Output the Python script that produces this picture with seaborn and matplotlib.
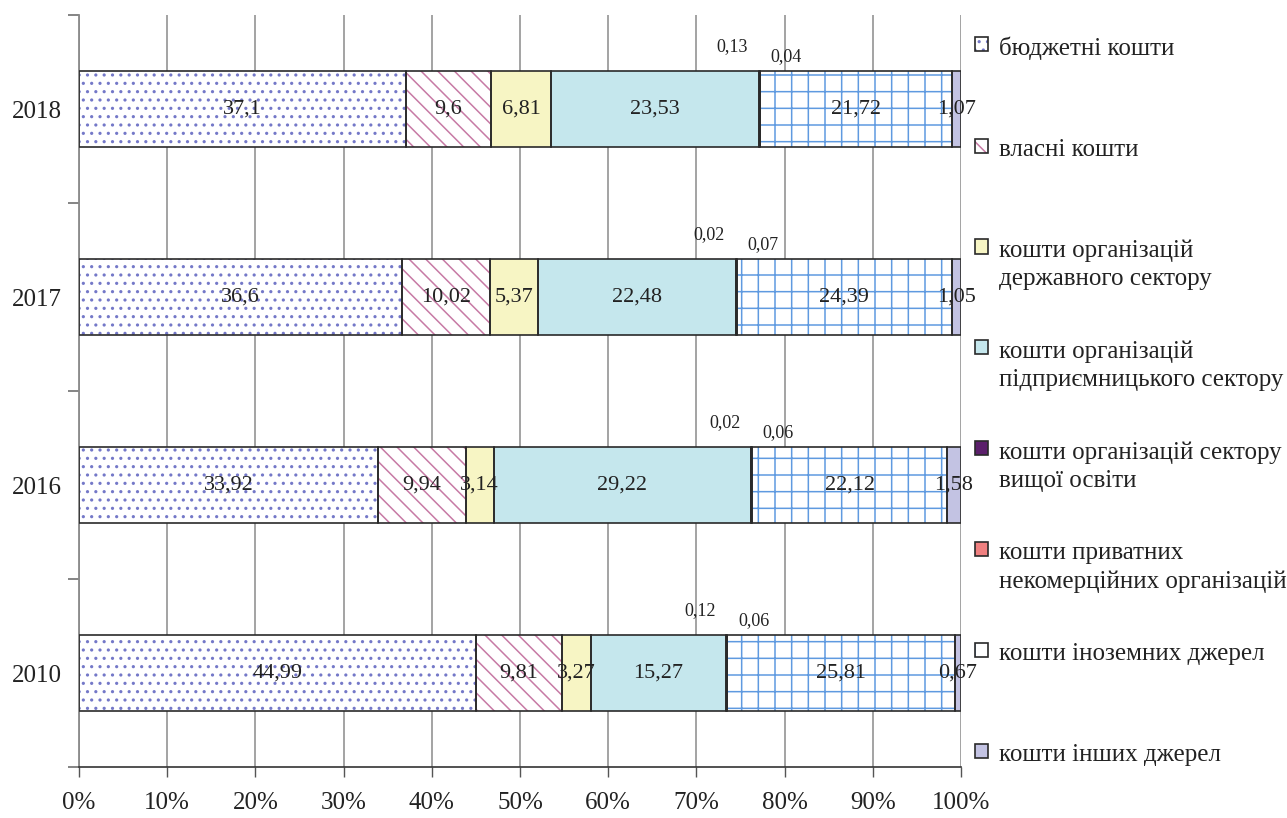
import numpy as np
import matplotlib.pyplot as plt
import seaborn as sns
from matplotlib.patches import Patch, Rectangle
from matplotlib.legend_handler import HandlerTuple
from matplotlib.ticker import FuncFormatter, FixedLocator

# -----------------------------
# Data (shares of R&D funding sources, %)
# -----------------------------
years = ["2018", "2017", "2016", "2010"]
sources = [
    "бюджетні кошти",
    "власні кошти",
    "кошти організацій\nдержавного сектору",
    "кошти організацій\nпідприємницького сектору",
    "кошти організацій сектору\nвищої освіти",
    "кошти приватних\nнекомерційних організацій",
    "кошти іноземних джерел",
    "кошти інших джерел",
]
budget = [37.1, 36.6, 33.92, 44.99]
own = [9.6, 10.02, 9.94, 9.81]
state = [6.81, 5.37, 3.14, 3.27]
business = [23.53, 22.48, 29.22, 15.27]
higher_ed = [0.13, 0.02, 0.02, 0.12]
nonprofit = [0.04, 0.07, 0.06, 0.06]
foreign = [21.72, 24.39, 22.12, 25.81]
other = [1.07, 1.05, 1.58, 0.67]
series = [budget, own, state, business, higher_ed, nonprofit, foreign, other]

# -----------------------------
# Styles
# -----------------------------
face_colors = ["white", "white", "#f7f5c4", "#c5e7ed", "#5b1f6b", "#f08080", "white", "#c3c3e3"]
hatches = ["..", "\\\\", None, None, None, None, "+", None]
hatch_colors = ["#7478c8", "#c77aa5", None, None, None, None, "#5f9ae0", None]
outline = "#2a2a2a"
text_color = "#222222"

sns.set_theme(style="white")
plt.rcParams["font.family"] = ["Liberation Serif", "DejaVu Serif"]
plt.rcParams["hatch.linewidth"] = 1.1

fig = plt.figure(figsize=(12.87, 8.18), dpi=100)
ax = fig.add_axes([0.0614, 0.0623, 0.6853, 0.9193])

# -----------------------------
# Stacked bars
# -----------------------------
left = np.zeros(len(years))
handles = []
for i, vals in enumerate(series):
    vals = np.array(vals)
    kw = dict(linewidth=0)
    if hatches[i]:
        kw.update(hatch=hatches[i], edgecolor=hatch_colors[i])
    sns.barplot(x=vals, y=years, order=years, orient="h", left=left, width=0.4,
                color=face_colors[i], saturation=1, errorbar=None, ax=ax, **kw)
    for p in ax.containers[-1]:
        ax.add_patch(Rectangle(p.get_xy(), p.get_width(), p.get_height(),
                               fill=False, edgecolor=outline, linewidth=1.2, zorder=3))

    # value labels
    for j, v in enumerate(vals):
        label = f"{v:g}".replace(".", ",")
        cx = left[j] + v / 2
        if i == 4:
            ax.text(cx - 3.0, j - 0.33, label, ha="center", va="center",
                    fontsize=13, color=text_color, zorder=4)
        elif i == 5:
            ax.text(cx + 3.0, j - 0.28, label, ha="center", va="center",
                    fontsize=13, color=text_color, zorder=4)
        else:
            ax.text(cx, j, label, ha="center", va="center",
                    fontsize=16, color=text_color, zorder=4)
    left = left + vals

    hatch_patch = Patch(facecolor=face_colors[i], hatch=hatches[i],
                        edgecolor=hatch_colors[i] if hatches[i] else face_colors[i], linewidth=0)
    edge_patch = Patch(fill=False, edgecolor=outline, linewidth=1.2)
    handles.append((hatch_patch, edge_patch))

# -----------------------------
# Axes formatting
# -----------------------------
ax.set_xlim(0, 100)
ax.set_ylim(3.5, -0.5)
ax.set_xlabel("")
ax.set_ylabel("")
ax.xaxis.set_major_locator(FixedLocator(np.arange(0, 101, 10)))
ax.xaxis.set_major_formatter(FuncFormatter(lambda x, _: f"{x:.0f}%"))
ax.grid(axis="x", color="#8a8a8a", linewidth=1.1, zorder=0)
ax.set_axisbelow(True)
ax.tick_params(axis="x", which="major", direction="out", length=7, width=1,
               color="#555555", labelsize=18, pad=11, bottom=True, labelcolor=text_color)
ax.tick_params(axis="y", which="major", length=0, labelsize=18, pad=12, labelcolor=text_color)
ax.yaxis.set_minor_locator(FixedLocator(np.arange(-0.5, 3.6, 1)))
ax.tick_params(axis="y", which="minor", direction="out", length=8, width=1.2,
               color="#707070", left=True)
ax.spines["top"].set_visible(False)
ax.spines["right"].set_visible(False)
ax.spines["left"].set_color("#8a8a8a")
ax.spines["left"].set_linewidth(1.3)
ax.spines["bottom"].set_color("#333333")
ax.spines["bottom"].set_linewidth(1.2)

# -----------------------------
# Legend: equal slots, marker next to the first line
# -----------------------------
slot_labels = [s if "\n" in s else s + "\n" for s in sources]
leg = ax.legend(handles, slot_labels, handler_map={tuple: HandlerTuple(ndivide=1)},
                loc="upper left", bbox_to_anchor=(1.016, 0.971), frameon=False,
                fontsize=18, handlelength=0.5, handleheight=0.5, handletextpad=0.45,
                labelspacing=2.02, borderpad=0, borderaxespad=0, labelcolor=text_color)
for t in leg.get_texts():
    t.set_linespacing(1.35)
for col in leg._legend_handle_box.get_children():
    for row in col.get_children():
        row.align = "top"

plt.savefig("out.png", dpi=100)
